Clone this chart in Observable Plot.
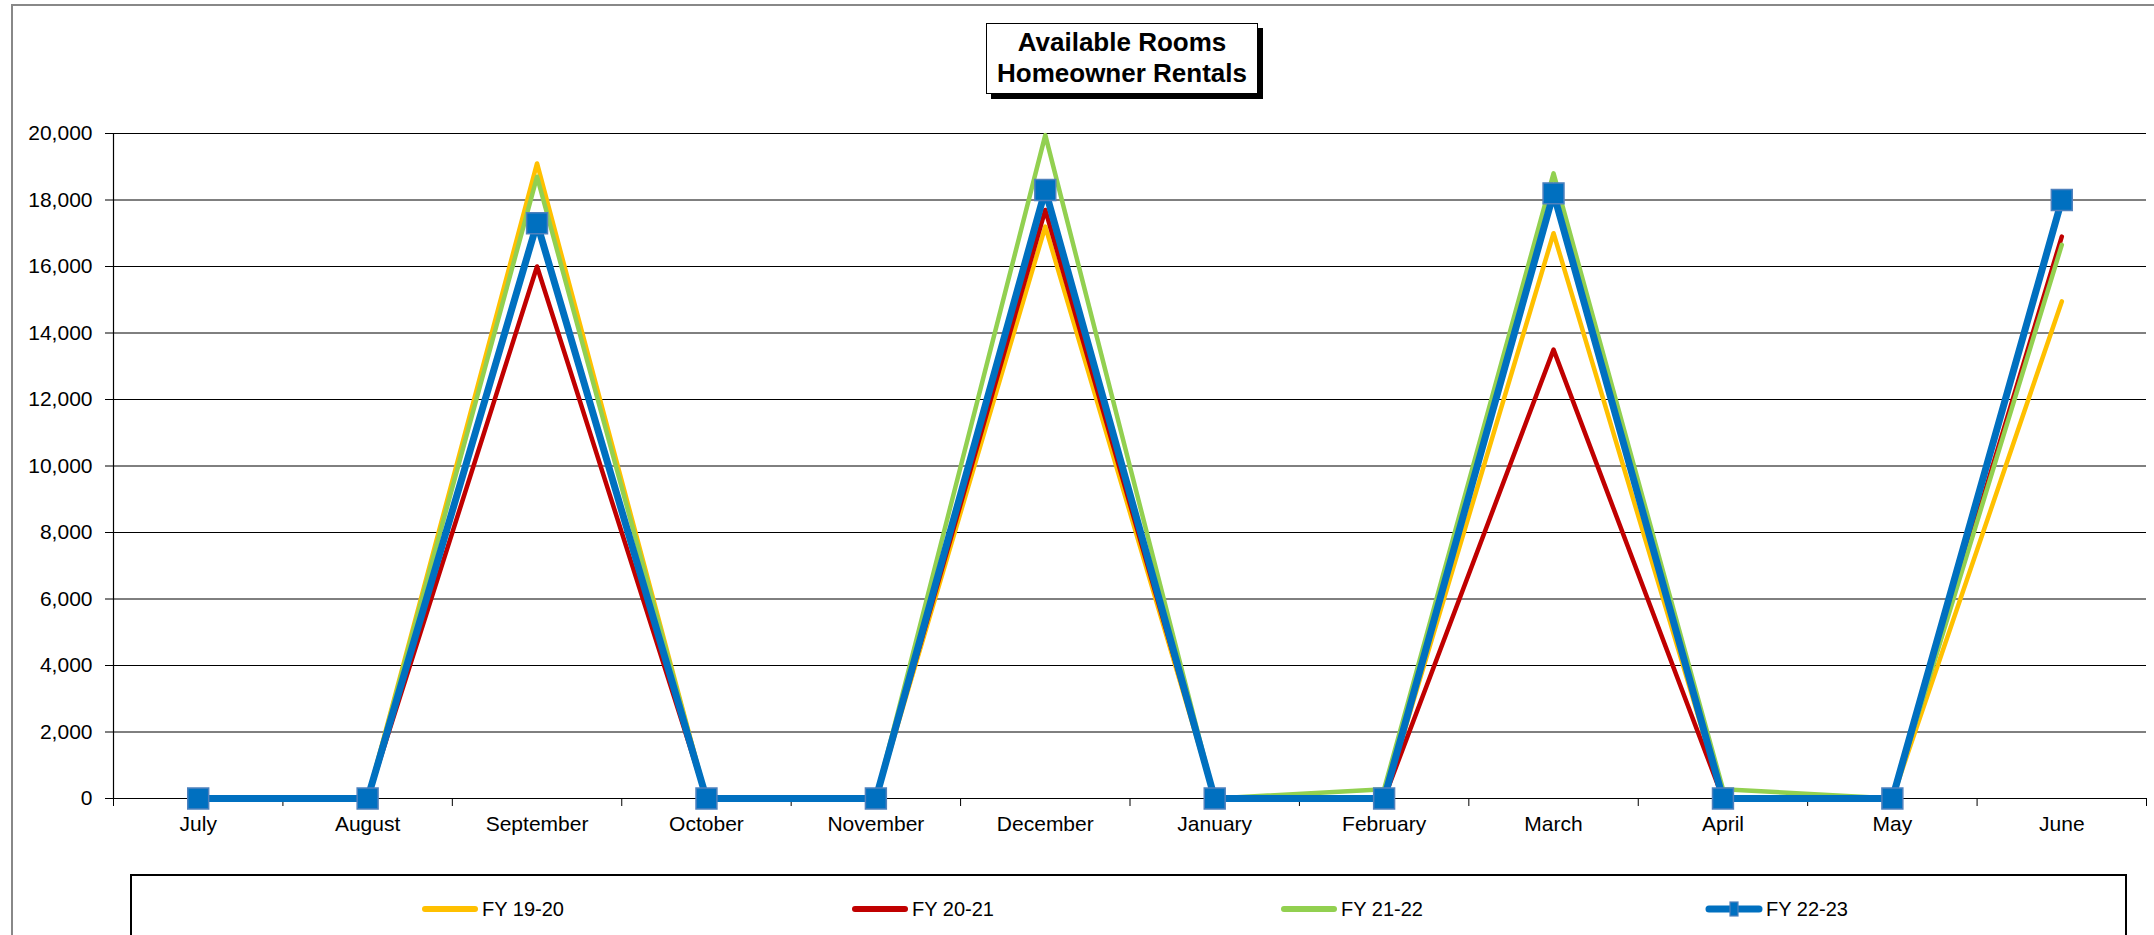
<!DOCTYPE html>
<html>
<head>
<meta charset="utf-8">
<script src="https://cdn.jsdelivr.net/npm/d3@7"></script>
<script src="https://cdn.jsdelivr.net/npm/@observablehq/plot@0.6"></script>
<style>
  html, body { margin: 0; padding: 0; background: #fff; width: 2154px; height: 935px; overflow: hidden; }
  body { position: relative; font-family: "Liberation Sans", Arial, sans-serif; }
  #frame { position: absolute; left: 11px; top: 4px; width: 2150px; height: 1000px; border-left: 2px solid #888; border-top: 2px solid #888; box-sizing: border-box; }
  #title { position: absolute; left: 986px; top: 23px; width: 272px; height: 71px; box-sizing: border-box;
           border: 1.5px solid #000; box-shadow: 5px 5px 0 #000; background: #fff;
           font-weight: bold; font-size: 26px; line-height: 31px; text-align: center; padding-top: 3px; color: #000; }
  #chart { position: absolute; left: 0; top: 100px; }
  #legend { position: absolute; left: 130px; top: 874px; width: 1997px; height: 100px; box-sizing: border-box; border: 2px solid #000; background: #fff; }
  .item { position: absolute; top: 20px; height: 26px; display: flex; align-items: center; font-size: 20px; color: #000; }
  .item svg { margin-right: 3px; }
</style>
</head>
<body>
<div id="frame"></div>
<div id="title">Available Rooms<br>Homeowner Rentals</div>
<div id="chart"></div>
<div id="legend"></div>
<script>
const months = ["July","August","September","October","November","December","January","February","March","April","May","June"];
const seriesNames = ["FY 19-20","FY 20-21","FY 21-22","FY 22-23"];
const fy1920 = [0, 0, 19100, 0, 0, 17200, 0, 0, 17000, 0, 0, 14950];
const fy2021 = [0, 0, 16000, 0, 0, 17700, 0, 0, 13500, 0, 0, 16900];
const fy2122 = [0, 0, 18700, 0, 0, 19950, 0, 280, 18800, 280, 0, 16650];
const fy2223 = [0, 0, 17300, 0, 0, 18300, 0, 0, 18200, 0, 0, 18000];
const yTicks = [0, 2000, 4000, 6000, 8000, 10000, 12000, 14000, 16000, 18000, 20000];
const colors = ["#FFC000", "#C00000", "#92D050", "#0070C0"];
const widths = [4.5, 4.5, 4.5, 7];

const allValues = [fy1920, fy2021, fy2122, fy2223];
const rows = [];
allValues.forEach((vals, s) => vals.forEach((v, i) => rows.push({series: seriesNames[s], month: months[i], idx: i, value: v})));
const xPos = d => d.idx + 0.5;

const lineMarks = seriesNames.map((name, s) =>
  Plot.line(rows.filter(d => d.series === name), {
    x: xPos, y: "value", stroke: colors[s], strokeWidth: widths[s],
    strokeLinejoin: "round", strokeLinecap: "round"
  })
);

const chart = Plot.plot({
  width: 2154,
  height: 740,
  marginLeft: 113,
  marginRight: 8,
  marginTop: 33,
  marginBottom: 42,
  x: {type: "linear", domain: [0, 12], axis: null, label: null},
  y: {domain: [0, 20000], axis: null, label: null},
  style: {fontFamily: "'Liberation Sans', Arial, sans-serif", fontSize: "21px", color: "#000", background: "transparent"},
  marks: [
    Plot.gridY(yTicks, {stroke: "#000", strokeOpacity: 1, strokeWidth: 1}),
    Plot.axisY(yTicks, {label: null, tickSize: 8, tickPadding: 13, tickFormat: d3.format(","), stroke: "#000", fill: "#000", fontSize: 21}),
    Plot.axisX(d3.range(13), {label: null, tickSize: 8, tickFormat: () => "", stroke: "#000"}),
    Plot.axisX(d3.range(12).map(i => i + 0.5), {label: null, tickSize: 0, tickPadding: 18, tickFormat: v => months[Math.floor(v)], fill: "#000", fontSize: 21}),
    Plot.ruleX([0], {stroke: "#000", strokeWidth: 1.2}),
    Plot.ruleY([0], {stroke: "#000", strokeWidth: 1.2}),
    ...lineMarks,
    Plot.dot(rows.filter(d => d.series === seriesNames[3]), {
      x: xPos, y: "value", symbol: "square", r: 11.8, fill: "#0070C0", stroke: "#4F81BD", strokeWidth: 1.5
    })
  ]
});
document.getElementById("chart").appendChild(chart);

// legend
const legend = document.getElementById("legend");
const legendLeft = [289, 719, 1148, 1573];
seriesNames.forEach((name, s) => {
  const item = document.createElement("div");
  item.className = "item";
  item.style.left = legendLeft[s] + "px";
  const ns = "http://www.w3.org/2000/svg";
  const svg = document.createElementNS(ns, "svg");
  svg.setAttribute("width", 58); svg.setAttribute("height", 20);
  const ln = document.createElementNS(ns, "line");
  ln.setAttribute("x1", 4); ln.setAttribute("x2", 54); ln.setAttribute("y1", 10); ln.setAttribute("y2", 10);
  ln.setAttribute("stroke", colors[s]); ln.setAttribute("stroke-width", s === 3 ? 7 : 6);
  ln.setAttribute("stroke-linecap", "round");
  svg.appendChild(ln);
  if (s === 3) {
    const r = document.createElementNS(ns, "rect");
    r.setAttribute("x", 25); r.setAttribute("y", 3); r.setAttribute("width", 8); r.setAttribute("height", 14);
    r.setAttribute("fill", "#0070C0"); r.setAttribute("stroke", "#4F81BD"); r.setAttribute("stroke-width", 1.2);
    svg.appendChild(r);
  }
  item.appendChild(svg);
  const t = document.createElement("span");
  t.textContent = name;
  item.appendChild(t);
  legend.appendChild(item);
});
</script>
</body>
</html>
